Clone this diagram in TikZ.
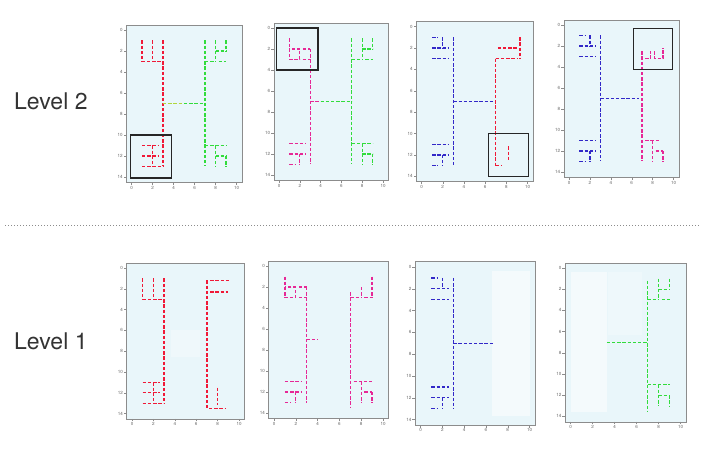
\documentclass[tikz,border=0pt]{standalone}
\usepackage{fontspec}
\setmainfont{TeX Gyre Heros}
\definecolor{axbg}{RGB}{233,246,250}
\definecolor{cred}{RGB}{240,25,55}
\definecolor{cgreen}{RGB}{50,220,60}
\definecolor{cmag}{RGB}{230,40,150}
\definecolor{cblue}{RGB}{50,40,200}
\definecolor{cyg}{RGB}{175,215,60}
\tikzset{
  seg/.style={line width=1.35pt, dash pattern=on 3.4pt off 1.8pt},
  axframe/.style={draw=black!45, line width=0.4pt},
  ticklbl/.style={font=\fontsize{4.5}{5}\selectfont, text=black!60, inner sep=0.8pt},
  tickmark/.style={draw=black!45, line width=0.3pt},
  hbox/.style={draw=black!85, line width=1.1pt},
  lvl/.style={font=\fontsize{23}{26}\selectfont, text=black!80, anchor=west, inner sep=0pt},
  sepline/.style={draw=black!45, line width=0.6pt, dash pattern=on 0.8pt off 2.2pt},
  paler/.style={fill=white, opacity=#1},
}
\newcommand\axbgd{\fill[axbg] (-0.5,-0.5) rectangle (10.5,14.5);}
\newcommand\axfr[1]{%
  \draw[axframe] (-0.5,-0.5) rectangle (10.5,14.5);
  \foreach \t in {0,2,...,10}{\draw[tickmark] (\t,14.5) -- (\t,14.75);
    \node[ticklbl,below,name=#1x\t] at (\t,14.75) {\t};}
  \foreach \t in {0,2,...,14}{\draw[tickmark] (-0.5,\t) -- (-0.75,\t);
    \node[ticklbl,left,name=#1y\t] at (-0.75,\t) {\t};}
}
\newcommand\grpTLsh[1]{\draw[seg,#1] (1,1)--(1,3)--(3,3) (2,1)--(2,3);}
\newcommand\grpTLbt[1]{\draw[seg,#1] (1,1)--(1,3)--(2,3)--(2,2)--(1,2) (2.3,2)--(3,2) (2.3,3)--(3,3);}
\newcommand\grpTLbl[1]{\draw[seg,#1] (1,1)--(1.6,1) (1,2)--(2.6,2) (1,3)--(2.6,3) (2,1)--(2,2);}
\newcommand\grpBLey[1]{\draw[seg,#1] (1,11)--(2.6,11) (1,12)--(2.6,12) (1,13)--(3,13) (2,11)--(2,13);}
\newcommand\grpBLbl[1]{\draw[seg,#1] (1,11)--(2.6,11) (1,12)--(2.6,12) (1,13)--(1.6,13) (2,12)--(2,13);}
\newcommand\grpTRgr[1]{\draw[seg,#1] (8,1)--(8,3) (9,1)--(9,2) (8,2)--(9,2) (7,3)--(8,3) (8.3,3)--(9,3);}
\newcommand\grpBRgr[1]{\draw[seg,#1] (7,11)--(9,11) (8,11)--(8,13) (8,12)--(9,12) (9,12)--(9,13);}
\begin{document}
\begin{tikzpicture}[x=1pt,y=-1pt]
\useasboundingbox (0,0) rectangle (714,465);
\fill[white] (0,0) rectangle (714,465);

\node[lvl] (lv2) at (14,101) {Level 2};
\node[lvl] (lv1) at (14,341) {Level 1};
\coordinate (dl) at (5,225);
\coordinate (dr) at (700,225);
\draw[sepline] (dl) -- (dr);

% ---------- Level 2, panel 1 ----------
\begin{scope}[shift={(131.5,30)}, x=10.5pt, y=-10.5pt]
\axbgd
\grpTLsh{cred}
\draw[seg,cred] (3,1)--(3,13);
\grpBLey{cred}
\draw[seg,cyg] (3,7)--(5,7);
\draw[seg,cgreen] (5,7)--(7,7) (7,1)--(7,13);
\grpTRgr{cgreen}
\grpBRgr{cgreen}
\draw[hbox] (-0.1,10) rectangle (3.8,14.1);
\axfr{a}
\end{scope}

% ---------- Level 2, panel 2 ----------
\begin{scope}[shift={(279,28)}, x=10.4pt, y=-10.5pt]
\axbgd
\grpTLbt{cmag}
\draw[seg,cmag] (3,2)--(3,13) (3,7)--(4,7);
\grpBLbl{cmag}
\draw[seg,cgreen] (4,7)--(7,7) (7,1)--(7,13);
\grpTRgr{cgreen}
\grpBRgr{cgreen}
\draw[hbox] (-0.2,0) rectangle (3.75,4);
\axfr{b}
\end{scope}

% ---------- Level 2, panel 3 ----------
\begin{scope}[shift={(421.5,26.5)}, x=10.6pt, y=-10.7pt]
\axbgd
\grpTLbl{cblue}
\draw[seg,cblue] (3,1)--(3,13) (3,7)--(7,7);
\grpBLbl{cblue}
\draw[seg,cred] (7,3)--(7,13) (9.3,1)--(9.3,3) (7.2,2)--(9,2) (7,3)--(9,3)
  (8.2,11.2)--(8.2,12.5) (7,13)--(7.6,13);
\draw[hbox] (6.3,10) rectangle (10.1,14);
\axfr{c}
\end{scope}

% ---------- Level 2, panel 4 ----------
\begin{scope}[shift={(569,25)}, x=10.45pt, y=-10.5pt]
\axbgd
\grpTLbl{cblue}
\draw[seg,cblue] (3,1)--(3,13) (3,7)--(6.7,7);
\grpBLbl{cblue}
\draw[seg,cmag] (7,3)--(7,13) (7,2.5)--(7,3.2)--(7.8,3.2)--(7.8,2.5)
  (8.2,2.5)--(8.2,3.2)--(9,3.2)--(9,2.2);
\draw[seg,cmag] (7.3,11)--(8.6,11) (8,11)--(8,13) (8.3,12)--(9,12) (9,12)--(9,13);
\draw[hbox] (6.2,0.3) rectangle (9.9,4.2);
\axfr{d}
\end{scope}

% ---------- Level 1, panel 1 ----------
\begin{scope}[shift={(132,268)}, x=10.7pt, y=-10.4pt]
\axbgd
\fill[paler=0.3] (3.6,6) rectangle (6.4,8.6);
\grpTLsh{cred}
\draw[seg,cred] (3,1)--(3,13);
\grpBLey{cred}
\draw[seg,cred] (7,1.2)--(7,13.5) (7.3,1.2)--(9.2,1.2) (7.3,2.3)--(9,2.3)
  (8,11.5)--(8,13.2) (7.2,13.5)--(8.7,13.5);
\axfr{e}
\end{scope}

% ---------- Level 1, panel 2 ----------
\begin{scope}[shift={(274,266)}, x=10.9pt, y=-10.5pt]
\axbgd
\grpTLbt{cmag}
\draw[seg,cmag] (3,2)--(3,13) (3,7)--(4,7);
\grpBLbl{cmag}
\draw[seg,cmag] (7,2.5)--(7,13.5) (7,3)--(7.9,3) (8,2)--(8,3) (8.3,3)--(9,3) (9,1)--(9,3);
\draw[seg,cmag] (7.3,11)--(9,11) (8,11)--(8,13) (8.3,12)--(9,12) (9,12)--(9,13);
\axfr{f}
\end{scope}

% ---------- Level 1, panel 3 ----------
\begin{scope}[shift={(420.5,267)}, x=10.9pt, y=-10.9pt]
\axbgd
\fill[paler=0.5] (6.6,0.4) rectangle (10,13.7);
\grpTLbl{cblue}
\draw[seg,cblue] (3,1)--(3,13) (3,7)--(6.7,7);
\grpBLbl{cblue}
\axfr{g}
\end{scope}

% ---------- Level 1, panel 4 ----------
\begin{scope}[shift={(570.5,268)}, x=11pt, y=-10.6pt]
\axbgd
\fill[paler=0.5] (0,0.4) rectangle (3.3,13.6);
\fill[paler=0.25] (3.4,0.4) rectangle (6.5,6.3);
\draw[seg,cgreen] (7,1.2)--(7,13.5) (3.3,7)--(7,7);
\grpTRgr{cgreen}
\grpBRgr{cgreen}
\axfr{h}
\end{scope}
\end{tikzpicture}
\end{document}
